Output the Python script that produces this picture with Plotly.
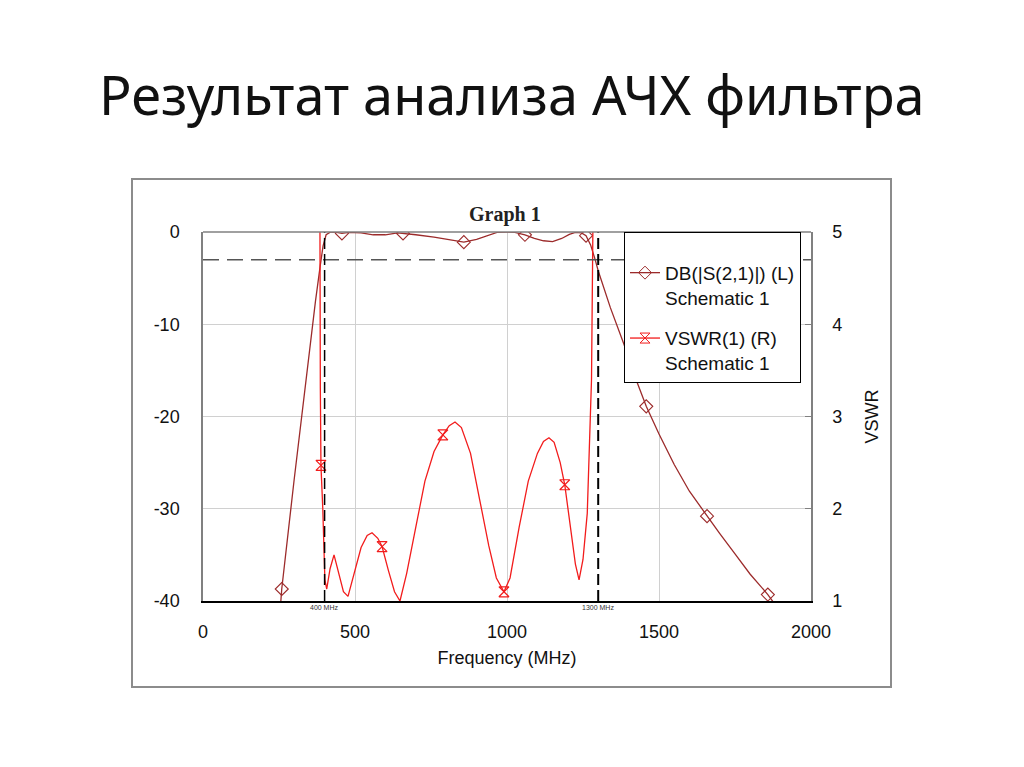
import plotly.graph_objects as go

# --- data ---
# DB(|S(2,1)|), left axis (dB)
db_freq = [255, 259, 300, 338, 370, 385, 395, 405, 420, 440, 457, 480, 520, 560, 600, 640, 658,
           700, 760, 810, 858, 900, 940, 967, 1000, 1026, 1059, 1090, 1120, 1150, 1180, 1205, 1225,
           1245, 1260, 1275, 1290, 1300, 1340, 1385, 1420, 1458, 1500, 1550, 1600, 1658, 1700,
           1750, 1800, 1858, 1880]
db_vals = [-40.5, -38.7, -26.8, -16.0, -7.5, -3.8, -1.5, -0.3, 0.0, -0.05, -0.15, -0.05, -0.1, -0.3,
           -0.3, -0.1, -0.15, -0.3, -0.55, -0.85, -1.1, -0.8, -0.35, -0.05, 0.0, -0.05, -0.3, -0.7,
           -0.95, -1.05, -0.7, -0.25, -0.05, -0.1, -0.4, -1.4, -3.0, -4.2, -8.2, -12.2, -15.6, -18.9,
           -21.9, -25.2, -28.1, -30.8, -32.7, -34.9, -37.1, -39.3, -40.3]
db_marker_freq = [259, 457, 658, 858, 1059, 1260, 1458, 1658, 1858]
db_marker_vals = [-38.7, -0.15, -0.15, -1.1, -0.3, -0.4, -18.9, -30.8, -39.3]

# VSWR(1), right axis
vswr_freq = [378, 384, 386, 388, 394, 401, 407, 418, 431, 445, 462, 477, 495, 520, 540, 556, 575,
             589, 610, 630, 648, 670, 700, 730, 760, 789, 810, 829, 850, 880, 910, 940, 965, 990,
             1010, 1040, 1070, 1100, 1120, 1138, 1155, 1175, 1190, 1210, 1225, 1237, 1250, 1264,
             1278, 1283, 1290]
vswr_vals = [9.0, 6.0, 3.3, 2.47, 2.0, 1.23, 1.13, 1.35, 1.5, 1.33, 1.1, 1.05, 1.28, 1.58, 1.71, 1.74,
             1.68, 1.59, 1.33, 1.1, 1.0, 1.3, 1.8, 2.3, 2.62, 2.8, 2.9, 2.94, 2.88, 2.6, 2.1, 1.6,
             1.25, 1.1, 1.25, 1.8, 2.3, 2.6, 2.73, 2.77, 2.72, 2.5, 2.26, 1.8, 1.4, 1.23, 1.45, 1.95,
             3.4, 5.2, 8.0]
vswr_marker_freq = [388, 589, 789, 990, 1190]
vswr_marker_vals = [2.47, 1.59, 2.8, 1.1, 2.26]

cutoff_freqs = [400, 1300]
cutoff_labels = ["400 MHz", "1300 MHz"]
cutoff_level = -3

x_ticks = [0, 500, 1000, 1500, 2000]
y_ticks = [-40, -30, -20, -10, 0]
y_tick_text = ["-40", "-30", "-20", "-10", "0"]
y2_ticks = [1, 2, 3, 4, 5]

DB_COLOR = "#9c2b2b"
VSWR_COLOR = "#f21c1c"
FONT = "Liberation Sans"

# page is 1024x767, the html body adds an 8px margin
OFF = 8
W, H = 1024 - OFF * 2, 767 - OFF * 2
# plot area in page pixels
L, R, T, B = 203, 811, 232, 601


def px_x(x):
    return (x - L) / (R - L)


def px_y(y):
    return (B - y) / (B - T)


fig = go.Figure()

fig.add_trace(go.Scatter(x=db_freq, y=db_vals, mode="lines", yaxis="y",
                         line=dict(color=DB_COLOR, width=1.3), showlegend=False))
fig.add_trace(go.Scatter(x=db_marker_freq, y=db_marker_vals, mode="markers", yaxis="y",
                         marker=dict(symbol="diamond-open", size=10, color=DB_COLOR,
                                     line=dict(width=1.1)),
                         showlegend=False))
fig.add_trace(go.Scatter(x=vswr_freq, y=vswr_vals, mode="lines", yaxis="y2",
                         line=dict(color=VSWR_COLOR, width=1.3), showlegend=False))
fig.add_trace(go.Scatter(x=vswr_marker_freq, y=vswr_marker_vals, mode="markers", yaxis="y2",
                         marker=dict(symbol="hourglass-open", size=10, color=VSWR_COLOR,
                                     line=dict(width=1.2)),
                         showlegend=False))

# legend entries
fig.add_trace(go.Scatter(x=[None], y=[None], mode="lines+markers", yaxis="y",
                         name="DB(|S(2,1)|) (L)<br>Schematic 1", legendgroup="a",
                         line=dict(color=DB_COLOR, width=1.3),
                         marker=dict(symbol="diamond-open", size=10, color=DB_COLOR)))
fig.add_trace(go.Scatter(x=[None], y=[None], mode="lines+markers", yaxis="y2",
                         name="VSWR(1) (R)<br>Schematic 1", legendgroup="b",
                         line=dict(color=VSWR_COLOR, width=1.3),
                         marker=dict(symbol="hourglass-open", size=10, color=VSWR_COLOR)))

shapes = []
# -3 dB reference line
shapes.append(dict(type="line", xref="x", yref="y", x0=x_ticks[0], x1=x_ticks[-1],
                   y0=cutoff_level, y1=cutoff_level,
                   line=dict(color="#555555", width=1.5, dash="16px,8px")))
# cutoff markers
for f, w in zip(cutoff_freqs, [1.5, 2]):
    shapes.append(dict(type="line", xref="x", yref="y", x0=f, x1=f, y0=y_ticks[0], y1=y_ticks[-1],
                       line=dict(color="black", width=w, dash="11px,5px")))
# grey top border of the plot
shapes.append(dict(type="line", xref="paper", yref="paper", x0=0, x1=1, y0=1, y1=1,
                   line=dict(color="#808080", width=1.5)))
# outer frame
shapes.append(dict(type="rect", xref="paper", yref="paper",
                   x0=px_x(132), x1=px_x(891), y0=px_y(687), y1=px_y(179),
                   line=dict(color="#8c8c8c", width=2), layer="below"))

annotations = [
    dict(text="Результат анализа АЧХ фильтра", xref="paper", yref="paper",
         x=px_x(512), y=px_y(94), xanchor="center", yanchor="middle", showarrow=False,
         font=dict(family="Noto Sans", size=54, color="#111111")),
    dict(text="<b>Graph 1</b>", xref="paper", yref="paper", x=px_x(505), y=px_y(214),
         xanchor="center", yanchor="middle", showarrow=False,
         font=dict(family="Liberation Serif", size=20, color="#222222")),
]
for f, lab in zip(cutoff_freqs, cutoff_labels):
    annotations.append(dict(text=lab, xref="x", yref="paper", x=f, y=px_y(607),
                            xanchor="center", yanchor="middle", showarrow=False,
                            font=dict(family=FONT, size=7, color="#333333")))

fig.update_layout(
    width=W, height=H,
    margin=dict(l=L - OFF, r=W + OFF - R, t=T - OFF, b=H + OFF - B),
    paper_bgcolor="white", plot_bgcolor="white",
    font=dict(family=FONT, size=18, color="#111111"),
    shapes=shapes, annotations=annotations,
    xaxis=dict(range=[x_ticks[0], x_ticks[-1]], tickvals=x_ticks, showgrid=True,
               gridcolor="#d0d0d0", gridwidth=1, zeroline=False, showline=True,
               linecolor="black", linewidth=2, ticks="", ticklabelstandoff=13,
               title=dict(text="Frequency (MHz)", standoff=11, font=dict(size=18))),
    yaxis=dict(range=[y_ticks[0], y_ticks[-1]], tickvals=y_ticks, ticktext=y_tick_text,
               showgrid=True, gridcolor="#d0d0d0", gridwidth=1, zeroline=False, showline=True,
               linecolor="#808080", linewidth=1.5, ticks="", ticklabelstandoff=18),
    yaxis2=dict(range=[y2_ticks[0], y2_ticks[-1]], tickvals=y2_ticks, overlaying="y",
                side="right", showgrid=False, zeroline=False, showline=True,
                linecolor="#808080", linewidth=1.5, ticks="inside", ticklen=6,
                tickcolor="#808080", ticklabelstandoff=16,
                title=dict(text="VSWR", standoff=24, font=dict(size=18))),
    legend=dict(x=px_x(624), y=1, xanchor="left", yanchor="top", bgcolor="white",
                bordercolor="black", borderwidth=1, valign="top", tracegroupgap=13,
                font=dict(family=FONT, size=19, color="#111111"),
                title=dict(text=" ", font=dict(size=16))),
)

fig.write_html("out.html")
